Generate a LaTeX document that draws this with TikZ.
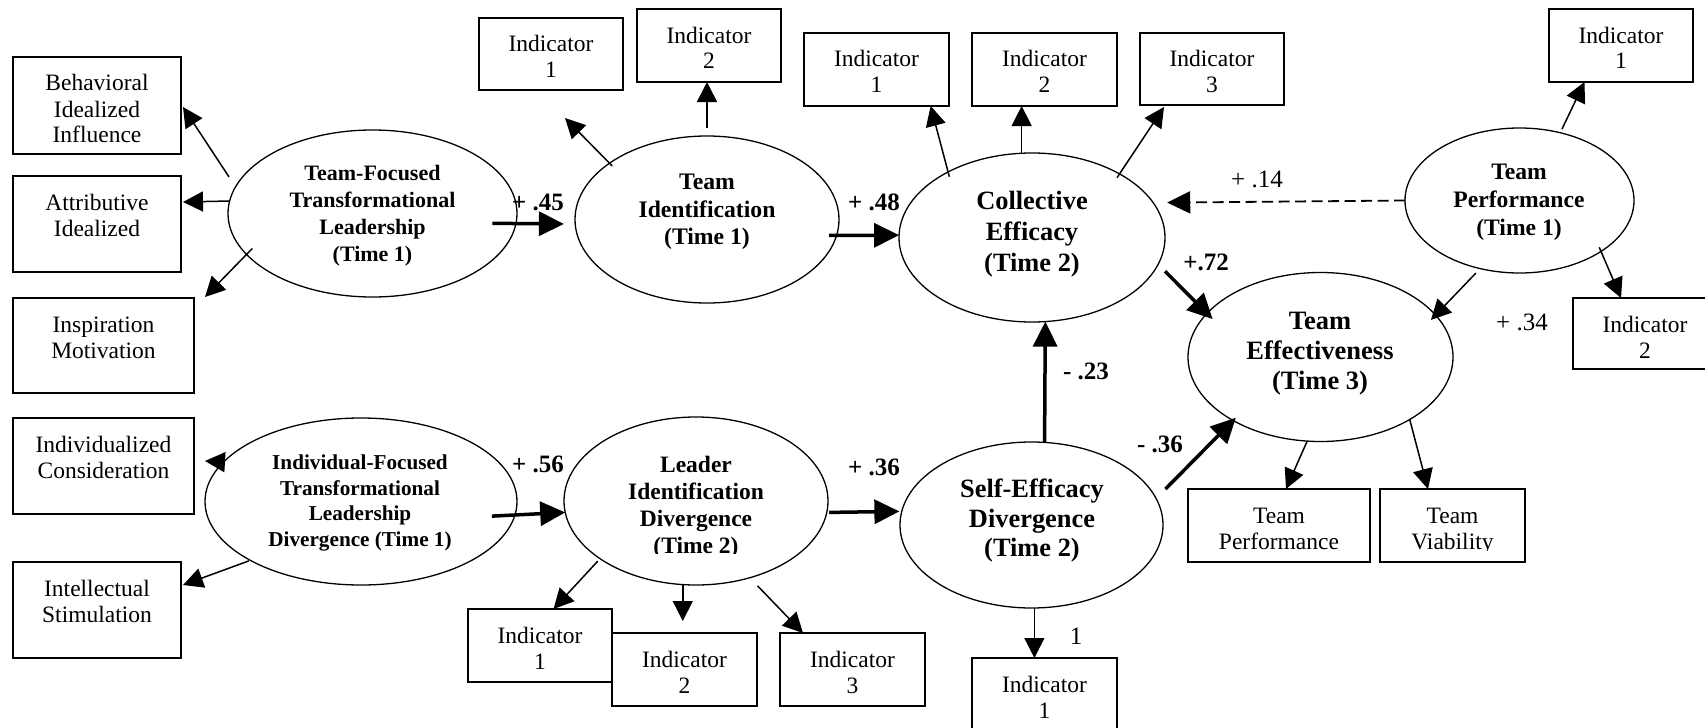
\documentclass[tikz,border=0pt]{standalone}
\usepackage{fontspec}
\setmainfont{Liberation Serif}
\usetikzlibrary{arrows.meta,shapes.geometric}
\newcommand{\bx}[3]{\parbox[c][#2][t]{#1}{\centering\rule{0pt}{17pt}#3}}
\begin{document}
\begin{tikzpicture}[x=0.5pt,y=-0.5pt,
  lat/.style={ellipse, draw, line width=0.65pt, inner sep=0pt, outer sep=0pt},
  ibox/.style={rectangle, draw, line width=1pt, inner sep=0pt, outer sep=0pt,
     font=\fontsize{11.75}{13}\selectfont},
  etxt/.style={align=center, inner sep=0pt},
  lblb/.style={inner sep=0pt, font=\fontsize{12.5}{14}\selectfont\bfseries},
  lblr/.style={inner sep=0pt, font=\fontsize{12.5}{14}\selectfont},
  pa/.style={line width=1.75pt, -{Triangle[length=12.5pt,width=12pt]}},
  ia/.style={line width=0.75pt, -{Triangle[length=10pt,width=10pt]}},
  da/.style={line width=0.9pt, dash pattern=on 5.5pt off 2.75pt, -{Triangle[length=11.5pt,width=11pt]}}
]
\useasboundingbox (0,0) rectangle (1705,728);
\clip (0,0) rectangle (1705,728);
\fill[white] (0,0) rectangle (1705,728);

% ---- ellipses
\node[lat, minimum width=144.5pt, minimum height=83.5pt] (tftl) at (372.5,213.5) {};
\node[lat, minimum width=132pt, minimum height=83.5pt] (tid) at (707,219.5) {};
\node[lat, minimum width=133pt, minimum height=84.5pt] (ce) at (1032,237.5) {};
\node[lat, minimum width=114.5pt, minimum height=72.5pt] (tp) at (1519.5,200.5) {};
\node[lat, minimum width=132.5pt, minimum height=84.5pt] (te) at (1320.5,357) {};
\node[lat, minimum width=156pt, minimum height=83.5pt] (iftl) at (361,501.5) {};
\node[lat, minimum width=132pt, minimum height=84pt] (lid) at (696,501) {};
\node[lat, minimum width=131.5pt, minimum height=83pt] (sed) at (1031.5,525) {};

% ---- ellipse texts
\node[etxt, font=\fontsize{11}{13.5}\selectfont\bfseries] (tftlt) at (372.5,216) {Team-Focused\\Transformational\\Leadership\\(Time 1)};
\node[etxt, font=\fontsize{11.85}{13.75}\selectfont\bfseries] (tidt) at (707,212) {Team\\Identification\\(Time 1)};
\node[etxt, font=\fontsize{13.2}{15.5}\selectfont\bfseries] (cet) at (1032,234) {Collective\\Efficacy\\(Time 2)};
\node[etxt, font=\fontsize{11.8}{14}\selectfont\bfseries] (tpt) at (1519,202) {Team\\Performance\\(Time 1)};
\node[etxt, font=\fontsize{13.25}{15}\selectfont\bfseries] (tet) at (1320,354) {Team\\Effectiveness\\(Time 3)};
\node[etxt, font=\fontsize{10.6}{12.7}\selectfont\bfseries] (iftlt) at (360,503) {Individual-Focused\\Transformational\\Leadership\\Divergence (Time 1)};
\begin{scope}
\clip (564,417) rectangle (828,553);
\node[etxt, font=\fontsize{11.75}{13.5}\selectfont\bfseries] (lidt) at (696,507.5) {Leader\\Identification\\Divergence\\(Time 2)};
\end{scope}
\node[etxt, font=\fontsize{13.2}{14.75}\selectfont\bfseries] (sedt) at (1032,521) {Self-Efficacy\\Divergence\\(Time 2)};

% ---- boxes
\node[ibox] (behav) at (97,105.5) {\bx{84pt}{48.5pt}{Behavioral\\Idealized\\Influence}};
\node[ibox] (attrib) at (97,224) {\bx{84pt}{48pt}{Attributive\\Idealized}};
\node[ibox] (inspir) at (103.5,345.5) {\bx{90.5pt}{47.5pt}{Inspiration\\Motivation}};
\node[ibox] (indiv) at (103.5,466) {\bx{90.5pt}{48pt}{Individualized\\Consideration}};
\node[ibox] (intell) at (97,610) {\bx{84pt}{48pt}{Intellectual\\Stimulation}};
\node[ibox] (tid1) at (551,54) {\bx{72pt}{36pt}{Indicator\\1}};
\node[ibox] (tid2) at (709,45.5) {\bx{72pt}{36.5pt}{Indicator\\2}};
\node[ibox] (ce1) at (876.5,69.5) {\bx{72.5pt}{36.5pt}{Indicator\\1}};
\node[ibox] (ce2) at (1044.5,69.5) {\bx{72.5pt}{36.5pt}{Indicator\\2}};
\node[ibox] (ce3) at (1212,69) {\bx{72pt}{36pt}{Indicator\\3}};
\node[ibox] (tp1) at (1621,45.5) {\bx{72pt}{36.5pt}{Indicator\\1}};
\node[ibox] (tp2) at (1645,333.5) {\bx{72pt}{35.5pt}{Indicator\\2}};
\node[ibox] (teperf) at (1279,525.5) {\bx{91pt}{36.5pt}{Team\\Performance}};
\node[ibox] (teviab) at (1452.5,525.5) {\bx{72.5pt}{36.5pt}{}};
\begin{scope}
\clip (teviab.north west) rectangle ([yshift=5.75pt]teviab.south east);
\node[ibox, draw=none] (tvt) at (teviab.center) {\bx{72.5pt}{36.5pt}{Team\\Viability}};
\end{scope}
\node[ibox] (lid1) at (540,645.5) {\bx{72pt}{36.5pt}{Indicator\\1}};
\node[ibox] (lid2) at (684.5,669.5) {\bx{72.5pt}{36.5pt}{Indicator\\2}};
\node[ibox] (lid3) at (852.5,669.5) {\bx{72.5pt}{36.5pt}{Indicator\\3}};
\node[ibox] (sed1) at (1044.5,694.5) {\bx{72.5pt}{36.5pt}{Indicator\\1}};

% ---- structural paths
\draw[pa, shorten <=-11.8pt, shorten >=5.65pt] (tftl.-4.6) -- (tid.182.4);
\draw[pa, shorten <=-3.7pt] (tid.-7.27) -- (ce.179.35);
\draw[pa, shorten <=-11.5pt] (iftl.-5) -- (lid.185.25);
\draw[pa, shorten <=1.2pt, shorten >=1.2pt] (lid.-5.25) -- (sed.174.7);
\draw[pa] (sed.81.4) -- (ce.-81.9);
\draw[pa, shorten <=4.9pt, shorten >=-4pt] (ce.-12.9) -- (te.159.5);
\draw[pa, shorten <=6.65pt, shorten >=-2pt] (sed.12.6) -- (te.216.2);
\draw[da, shorten >=7pt] (tp.180) -- (ce.16.9);
\draw[ia, shorten <=3.1pt, shorten >=-3.35pt] (tp.-120) -- (te.20);

% ---- indicator paths
\draw[ia, shorten <=2pt] (tp.59) -- (tp1.225.4);
\draw[ia, shorten <=-2.25pt] (tp.-32.7) -- (tp2.124.1);
\draw[ia, shorten <=5.9pt] (tftl.169) -- ([xshift=1pt,yshift=-0.75pt]behav.east);
\draw[ia] (tftl.175.4) -- ([xshift=1pt,yshift=11pt]attrib.east);
\draw[ia, shorten <=-4.15pt] (tftl.198.3) -- ([xshift=5.5pt,yshift=0.5pt]inspir.north east);
\draw[ia, shorten <=-1.9pt] (tid.150.1) -- ([xshift=7pt,yshift=-14pt]tid1.south);
\draw[ia, shorten <=4pt] (tid.north) -- (tid.north |- tid2.south);
\draw[ia, shorten <=-2.5pt] (ce.142.2) -- (ce1.-34.3);
\draw[ia] (ce.97.8) -- (ce.97.8 |- ce2.south);
\draw[ia, shorten <=-2.25pt] (ce.36.6) -- ([xshift=-24pt,yshift=-1pt]ce3.south);
\draw[ia, shorten <=-2.5pt] (iftl.164.3) -- ([xshift=5.5pt,yshift=2.5pt]indiv.east);
\draw[ia, shorten <=0.8pt] (iftl.208.9) -- ([xshift=1pt,yshift=12.5pt]intell.east);
\draw[ia, shorten <=1.7pt] (lid.211.8) -- ([xshift=6.75pt]lid1.north);
\draw[ia, shorten >=6pt] (lid.261.5) -- (lid.261.5 |- lid2.north);
\draw[ia, shorten <=5.65pt] (lid.-55.4) -- ([xshift=-24.75pt]lid3.north);
\draw[ia] (sed.-88.3) -- (sed.-88.3 |- sed1.north);
\draw[ia] (te.261.5) -- ([xshift=3.5pt]teperf.north);
\draw[ia] (te.-35.75) -- ([xshift=-12.25pt]teviab.north);

% ---- coefficient labels
\node[lblb] (l45) at (538,202) {+ .45};
\node[lblb] (l48) at (874,202) {+ .48};
\node[lblr] (l14) at (1257,179) {+ .14};
\node[lblb] (l72) at (1206,262) {+.72};
\node[lblr] (l34) at (1522,322) {+ .34};
\node[lblb] (l23) at (1086,371) {- .23};
\node[lblb] (l36n) at (1160,444) {- .36};
\node[lblb] (l56) at (538,464) {+ .56};
\node[lblb] (l36p) at (874,467) {+ .36};
\node[lblr] (l1) at (1076,636) {1};
\end{tikzpicture}
\end{document}
